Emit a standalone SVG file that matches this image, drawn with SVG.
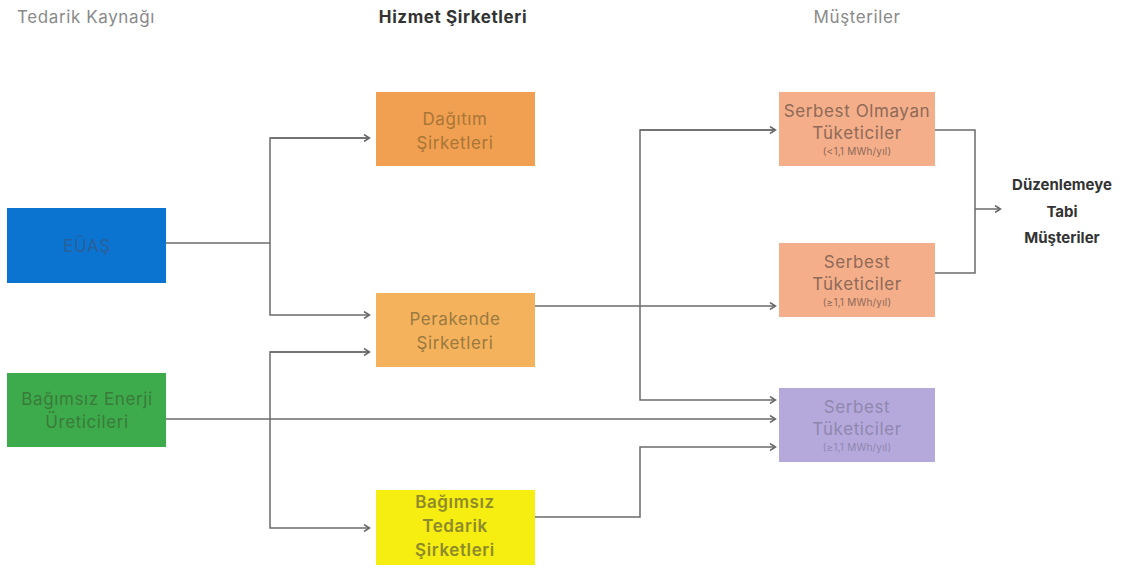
<svg xmlns="http://www.w3.org/2000/svg" width="1144" height="569" viewBox="0 0 1144 569">
<defs>
<marker id="arr" markerWidth="8" markerHeight="8" refX="6" refY="4" orient="auto" markerUnits="userSpaceOnUse">
<path d="M1,0.5 L6.5,4 L1,7.5" fill="none" stroke="#666" stroke-width="1.5"/>
</marker>
<style>
text{font-family:Inter,"Noto Sans","Liberation Sans",sans-serif;text-anchor:middle}
.hdr{font-size:17px;fill:#8a8a8a;letter-spacing:0.6px}
.hdrb{font-size:17px;fill:#333;font-weight:700;letter-spacing:0.6px}
.lbl{font-size:17px;letter-spacing:0.6px}
.sub{font-size:10px;letter-spacing:0.2px}
.c{fill:none;stroke:#6b6b6b;stroke-width:1.5}
</style>
</defs>
<rect width="1144" height="569" fill="#fff"/>
<text class="hdr" x="86" y="23">Tedarik Kaynağı</text>
<text class="hdrb" x="453" y="23">Hizmet Şirketleri</text>
<text class="hdr" x="857" y="23">Müşteriler</text>

<g id="connectors">
<path class="c" d="M166,243 H270"/>
<path class="c" d="M369,138 H270 V315 H369" marker-end="url(#arr)"/>
<path class="c" d="M270,138 H369" marker-end="url(#arr)"/>
<path class="c" d="M166,419 H775" marker-end="url(#arr)"/>
<path class="c" d="M369,352 H270 V528 H369" marker-end="url(#arr)"/>
<path class="c" d="M270,352 H369" marker-end="url(#arr)"/>
<path class="c" d="M535,306 H775" marker-end="url(#arr)"/>
<path class="c" d="M775,130 H640 V400 H775" marker-end="url(#arr)"/>
<path class="c" d="M640,130 H775" marker-end="url(#arr)"/>
<path class="c" d="M535,517 H640 V447 H775" marker-end="url(#arr)"/>
<path class="c" d="M935,130 H975 V273 H935"/>
<path class="c" d="M975,209 H1000" marker-end="url(#arr)"/>
</g>

<g id="euas">
<rect x="7" y="208" width="159" height="75" fill="#0a74d0"/>
<text class="lbl" x="87" y="252" fill="#2a5f9a">EÜAŞ</text>
</g>
<g id="bagimsiz-enerji">
<rect x="7" y="373" width="159" height="74" fill="#3dab4b"/>
<text class="lbl" x="87" y="405" fill="#3a7a3a" letter-spacing="0.3">Bağımsız Enerji</text>
<text class="lbl" x="87" y="428" fill="#3a7a3a">Üreticileri</text>
</g>
<g id="dagitim">
<rect x="376" y="92" width="159" height="74" fill="#f0a050"/>
<text class="lbl" x="455" y="125" fill="#a87638">Dağıtım</text>
<text class="lbl" x="455" y="149" fill="#a87638">Şirketleri</text>
</g>
<g id="perakende">
<rect x="376" y="293" width="159" height="74" fill="#f5b25c"/>
<text class="lbl" x="455" y="325" fill="#9a7a40">Perakende</text>
<text class="lbl" x="455" y="349" fill="#9a7a40">Şirketleri</text>
</g>
<g id="bagimsiz-tedarik">
<rect x="376" y="490" width="159" height="75" fill="#f5ee10"/>
<text class="lbl" x="455" y="508" fill="#8f8a2a" font-weight="600">Bağımsız</text>
<text class="lbl" x="455" y="532" fill="#8f8a2a" font-weight="600">Tedarik</text>
<text class="lbl" x="455" y="556" fill="#8f8a2a" font-weight="600">Şirketleri</text>
</g>
<g id="serbest-olmayan">
<rect x="779" y="92" width="156" height="74" fill="#f5ae8a"/>
<text class="lbl" x="857" y="117" fill="#8e6a58" letter-spacing="0.2">Serbest Olmayan</text>
<text class="lbl" x="857" y="139" fill="#8e6a58">Tüketiciler</text>
<text class="sub" x="857" y="155" fill="#8e6a58">(&lt;1,1 MWh/yıl)</text>
</g>
<g id="serbest">
<rect x="779" y="243" width="156" height="74" fill="#f5ae8a"/>
<text class="lbl" x="857" y="268" fill="#8e6a58">Serbest</text>
<text class="lbl" x="857" y="290" fill="#8e6a58">Tüketiciler</text>
<text class="sub" x="857" y="306" fill="#8e6a58">(≥1,1 MWh/yıl)</text>
</g>
<g id="serbest-mor">
<rect x="779" y="388" width="156" height="74" fill="#b5a9dc"/>
<text class="lbl" x="857" y="413" fill="#8e88ae">Serbest</text>
<text class="lbl" x="857" y="435" fill="#8e88ae">Tüketiciler</text>
<text class="sub" x="857" y="451" fill="#8e88ae">(≥1,1 MWh/yıl)</text>
</g>
<g id="duzenlemeye">
<text x="1062" y="190" font-size="15" font-weight="700" fill="#333">Düzenlemeye</text>
<text x="1062" y="217" font-size="15" font-weight="700" fill="#333">Tabi</text>
<text x="1062" y="243" font-size="15" font-weight="700" fill="#333">Müşteriler</text>
</g>
</svg>
